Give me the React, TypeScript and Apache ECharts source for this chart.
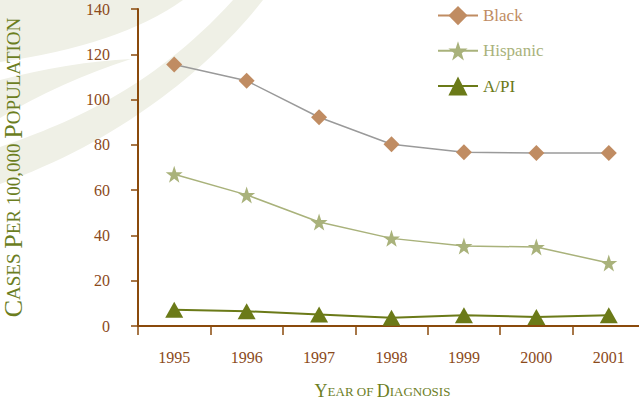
import React, { useEffect, useRef } from "react";
import * as echarts from "echarts";

const years = ["1995", "1996", "1997", "1998", "1999", "2000", "2001"];
const black = [115.5, 108.3, 92.2, 80.3, 76.7, 76.4, 76.4];
const hispanic = [67.0, 57.9, 45.9, 38.7, 35.3, 34.9, 27.8];
const api = [7.2, 6.5, 5.1, 3.6, 4.7, 4.0, 4.7];
const yTicks = [0, 20, 40, 60, 80, 100, 120, 140];

const STAR =
  "path://M50,0 L61.8,35.3 L98.1,35.3 L68.8,57.1 L79.4,91.9 L50,70.6 L20.6,91.9 L31.2,57.1 L1.9,35.3 L38.2,35.3 Z";

const SWOOSH_A = "M0,0 L183,0 Q120,45 0,62 Z";
const SWOOSH_B = "M0,80 Q70,62 131,59 Q60,82 0,118 Z";
const SWOOSH_C = "M0,147 C60,126 150,92 233,0 L263,0 C215,62 125,140 0,184 Z";

const FONT = "'Liberation Serif', 'DejaVu Serif', serif";
const AXIS = "#8a4a0c";
const LABEL = "#8b4a1a";
const TITLE = "#6c7e1f";
const BG = "#eff0e6";

export default function App() {
  const ref = useRef<HTMLDivElement>(null);
  useEffect(() => {
    if (!ref.current) return;
    echarts.graphic.registerShape("swooshA", echarts.graphic.extendPath(SWOOSH_A, {}) as any);
    echarts.graphic.registerShape("swooshB", echarts.graphic.extendPath(SWOOSH_B, {}) as any);
    echarts.graphic.registerShape("swooshC", echarts.graphic.extendPath(SWOOSH_C, {}) as any);
    const chart = echarts.init(ref.current, undefined, { renderer: "svg" });
    chart.setOption({
      animation: false,
      backgroundColor: "#ffffff",
      graphic: [
        { type: "swooshA", x: 0, y: 0, z: -10, silent: true, style: { fill: BG } },
        { type: "swooshB", x: 0, y: 0, z: -10, silent: true, style: { fill: BG } },
        { type: "swooshC", x: 0, y: 0, z: -10, silent: true, style: { fill: BG } },
      ],
      grid: { left: 138, right: -6, top: 9, bottom: 76, containLabel: false, outerBoundsMode: "none" },
      legend: {
        orient: "vertical",
        left: 432,
        top: 1,
        itemWidth: 40,
        itemHeight: 24,
        itemGap: 16,
        textStyle: { fontFamily: FONT, fontSize: 17 },
        data: [
          { name: "Black", lineStyle: { color: "#c08c62" }, textStyle: { color: "#c08c62" } },
          { name: "Hispanic", textStyle: { color: "#a9b27b" } },
          { name: "A/PI", textStyle: { color: "#6b7a18" } },
        ],
      },
      xAxis: {
        type: "category",
        data: years,
        boundaryGap: true,
        axisLine: { lineStyle: { color: AXIS, width: 2 } },
        axisTick: { show: true, length: 9, lineStyle: { color: AXIS, width: 1.5 } },
        axisLabel: { color: LABEL, fontFamily: FONT, fontSize: 16, margin: 23 },
        name: "{b|Y}{s|EAR OF }{b|D}{s|IAGNOSIS}",
        nameLocation: "middle",
        nameGap: 56,
        nameTextStyle: {
          color: TITLE,
          fontFamily: FONT,
          padding: [0, 18, 0, 0],
          rich: {
            b: { fontSize: 18, color: TITLE, fontFamily: FONT },
            s: { fontSize: 13, color: TITLE, fontFamily: FONT },
          },
        },
      },
      yAxis: {
        type: "value",
        min: yTicks[0],
        max: yTicks[yTicks.length - 1],
        interval: 20,
        splitLine: { show: false },
        axisLine: { show: true, lineStyle: { color: AXIS, width: 2 } },
        axisTick: { show: true, length: 7, lineStyle: { color: AXIS, width: 1.5 } },
        axisLabel: { color: LABEL, fontFamily: FONT, fontSize: 16, margin: 28, padding: [5, 0, 0, 0] },
        name: "{b|C}{s|ASES }{b|P}{s|ER 100,000 }{b|P}{s|OPULATION}",
        nameLocation: "middle",
        nameRotate: 90,
        nameGap: 112,
        nameTextStyle: {
          color: TITLE,
          fontFamily: FONT,
          rich: {
            b: { fontSize: 26, color: TITLE, fontFamily: FONT },
            s: { fontSize: 19, color: TITLE, fontFamily: FONT },
          },
        },
      },
      series: [
        {
          name: "Black",
          type: "line",
          data: black,
          symbol: "diamond",
          symbolSize: 16,
          itemStyle: { color: "#c08c62" },
          lineStyle: { color: "#9a9a9a", width: 1.5 },
          z: 3,
        },
        {
          name: "Hispanic",
          type: "line",
          data: hispanic,
          symbol: STAR,
          symbolSize: 17,
          itemStyle: { color: "#a9b27b" },
          lineStyle: { color: "#a9b27b", width: 1.5 },
          z: 3,
        },
        {
          name: "A/PI",
          type: "line",
          data: api,
          symbol: "triangle",
          symbolSize: [18, 16],
          itemStyle: { color: "#6b7a18" },
          lineStyle: { color: "#6b7a18", width: 2 },
          z: 3,
        },
      ],
    });
    return () => chart.dispose();
  }, []);
  return <div ref={ref} style={{ width: 639, height: 402, position: "fixed", left: 0, top: 0 }} />;
}
